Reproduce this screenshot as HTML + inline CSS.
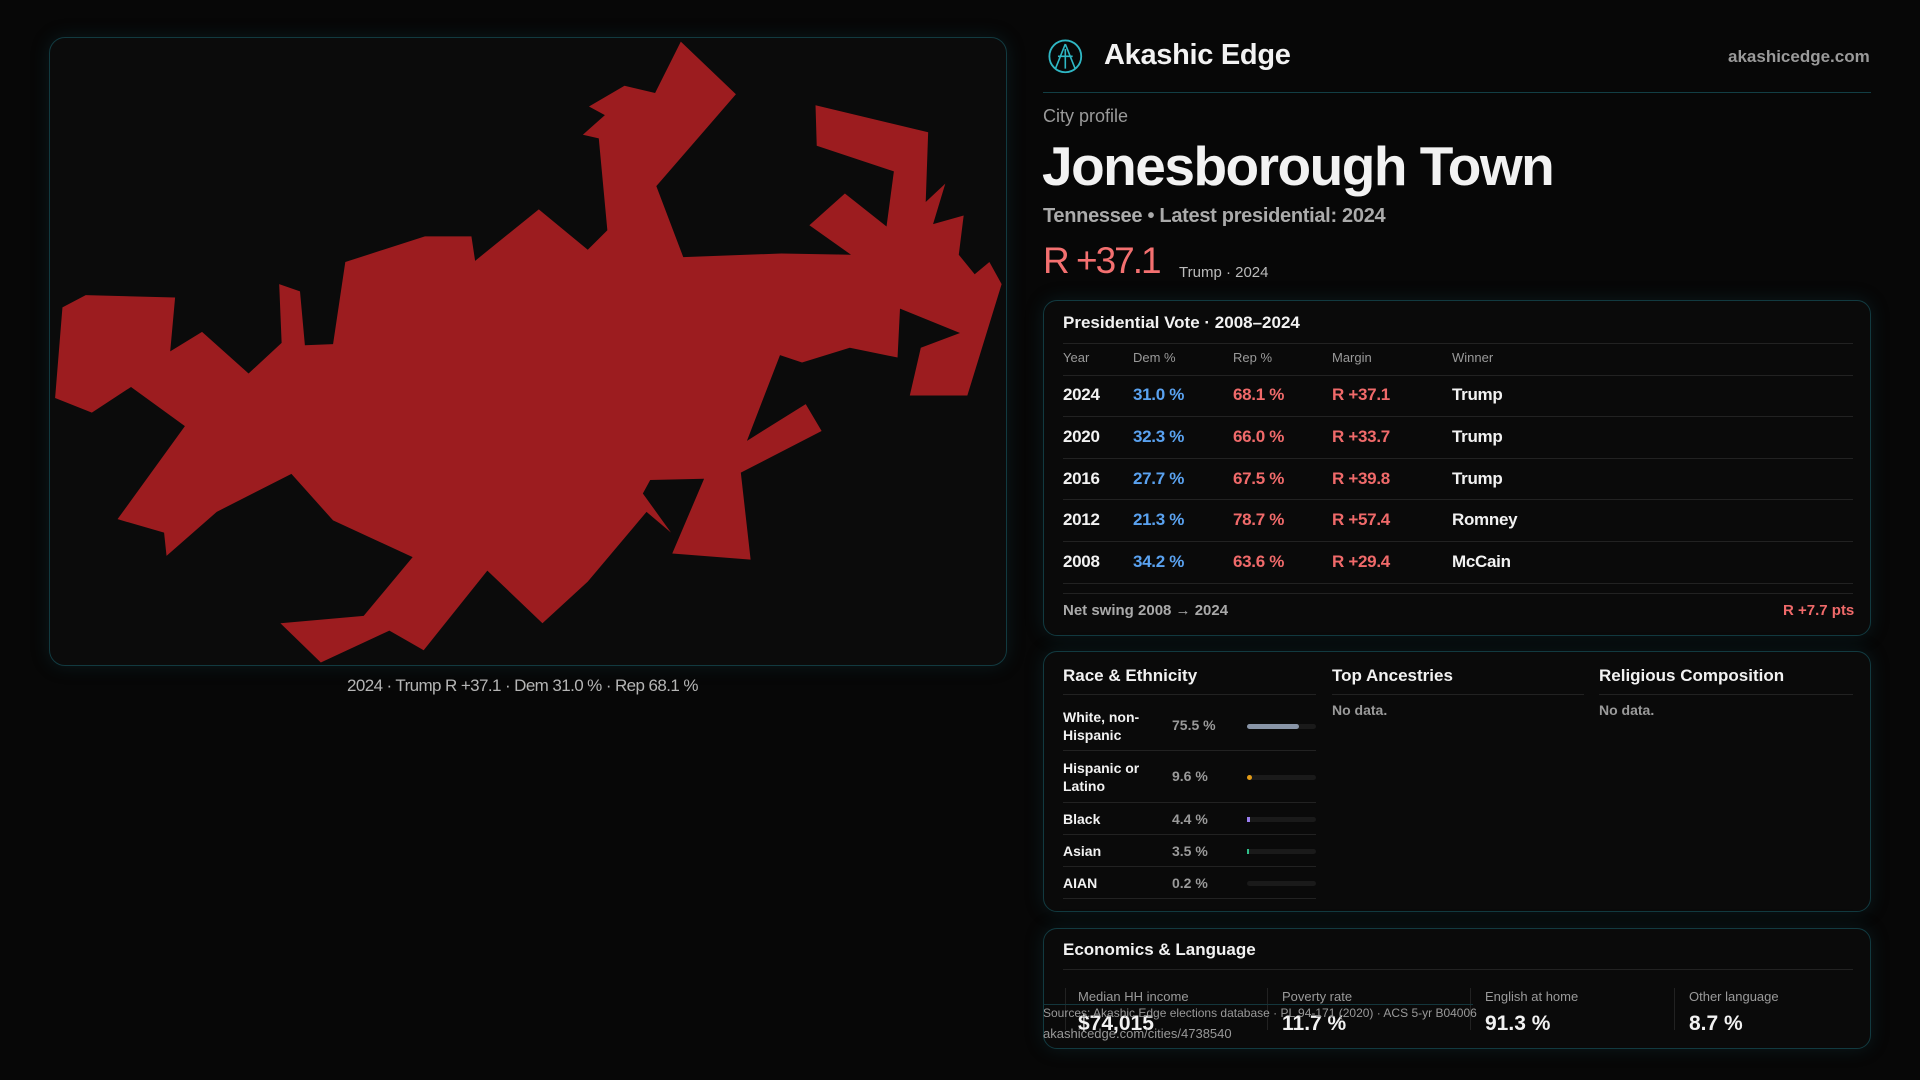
<!DOCTYPE html>
<html><head><meta charset="utf-8"><style>
*{margin:0;padding:0;box-sizing:border-box}
body{width:1920px;height:1080px;background:#070707;font-family:"Liberation Sans",sans-serif;color:#f2f2f2;position:relative;overflow:hidden}
.a{position:absolute;white-space:nowrap}
.card{position:absolute;border:1px solid #123a40;border-radius:14px;background:#0a0a0a;box-shadow:0 0 18px rgba(20,80,90,0.25)}
.hl{position:absolute;height:1px;background:#222}
.blue{color:#5aa2f0}.red{color:#f06a6a}
.mut{color:#9a9a9a}
</style></head><body>
<div class="card" style="left:49px;top:37px;width:958px;height:629px;border-radius:16px;background:#0b0b0b"></div>
<svg class="a" style="left:0;top:0" width="1920" height="1080" viewBox="0 0 1568 882">
<polygon fill="#9c1c1f" points="556,34 601,77 536,152 558,210 638,207 695,208 661,184 690,158 724,185 730,140 667,119 666,86 758,108 756,165 772,150 762,183 787,176 783,208 796,224 808,214 818,232 790,323 743,323 752,284 784,272 735,252 733,292 694,284 655,296 637,290 610,360 658,330 671,352 605,386 613,457 549,452 575,391 531,392 525,403 548,435 528,418 480,475 443,509 398,466 346,531 318,515 262,541 229,509 297,503 337,455 272,425 238,387 177,418 136,454 134,435 96,424 151,348 107,316 75,337 45,325 51,251 70,241 143,243 139,287 165,271 203,305 230,280 228,232 245,238 249,282 272,281 282,214 347,193 385,193 388,213 440,171 480,204 496,188 489,113 476,110 494,94 481,87 510,70 535,76"/>
<circle cx="870" cy="46" r="13" fill="none" stroke="#2fb7c4" stroke-width="1.5"/>
<path d="M870 36 L862 56 M870 36 L878 56 M864 46 L876 46 M870 40 L870 56" stroke="#2fb7c4" stroke-width="1.3" fill="none"/>
</svg>
<div class="a" style="left:347px;top:676px;font-size:17px;color:#b5b5b5;letter-spacing:-0.6px">2024 · Trump R +37.1 · Dem 31.0 % · Rep 68.1 %</div>

<div class="a" style="left:1104px;top:39px;font-size:29px;font-weight:bold;letter-spacing:-0.3px">Akashic Edge</div>
<div class="a mut" style="left:1728px;top:47px;font-size:17px;font-weight:bold">akashicedge.com</div>
<div class="hl" style="left:1043px;top:92px;width:828px;background:#123e44"></div>
<div class="a mut" style="left:1043px;top:106px;font-size:18px">City profile</div>
<div class="a" style="left:1042px;top:134px;font-size:55px;font-weight:bold;letter-spacing:-1.5px">Jonesborough Town</div>
<div class="a" style="left:1043px;top:205px;font-size:20px;color:#aaa;font-weight:bold;letter-spacing:-0.3px">Tennessee • Latest presidential: 2024</div>
<div class="a red" style="left:1043px;top:240px;font-size:37px;color:#f47070;letter-spacing:-2px">R +37.1</div>
<div class="a" style="left:1179px;top:264px;font-size:15px;color:#bbb">Trump · 2024</div>

<div class="card" style="left:1043px;top:300px;width:828px;height:336px"></div>
<div class="a" style="left:1063px;top:313px;font-size:17px;font-weight:bold">Presidential Vote · 2008–2024</div>
<div class="hl" style="left:1063px;top:343px;width:790px"></div>
<div class="a mut" style="left:1063px;top:350px;font-size:13px">Year</div>
<div class="a mut" style="left:1133px;top:350px;font-size:13px">Dem %</div>
<div class="a mut" style="left:1233px;top:350px;font-size:13px">Rep %</div>
<div class="a mut" style="left:1332px;top:350px;font-size:13px">Margin</div>
<div class="a mut" style="left:1452px;top:350px;font-size:13px">Winner</div>
<div class="hl" style="left:1063px;top:375px;width:790px"></div>
<div style="position:absolute;left:1063px;top:375px;width:790px;font-size:17px;font-weight:bold;letter-spacing:-0.3px">
<div style="position:relative;height:42px;border-bottom:1px solid #222"><span class="a" style="left:0;top:10px">2024</span><span class="a blue" style="left:70px;top:10px">31.0 %</span><span class="a red" style="left:170px;top:10px">68.1 %</span><span class="a red" style="left:269px;top:10px">R +37.1</span><span class="a" style="left:389px;top:10px">Trump</span></div>
<div style="position:relative;height:42px;border-bottom:1px solid #222"><span class="a" style="left:0;top:10px">2020</span><span class="a blue" style="left:70px;top:10px">32.3 %</span><span class="a red" style="left:170px;top:10px">66.0 %</span><span class="a red" style="left:269px;top:10px">R +33.7</span><span class="a" style="left:389px;top:10px">Trump</span></div>
<div style="position:relative;height:41px;border-bottom:1px solid #222"><span class="a" style="left:0;top:10px">2016</span><span class="a blue" style="left:70px;top:10px">27.7 %</span><span class="a red" style="left:170px;top:10px">67.5 %</span><span class="a red" style="left:269px;top:10px">R +39.8</span><span class="a" style="left:389px;top:10px">Trump</span></div>
<div style="position:relative;height:42px;border-bottom:1px solid #222"><span class="a" style="left:0;top:10px">2012</span><span class="a blue" style="left:70px;top:10px">21.3 %</span><span class="a red" style="left:170px;top:10px">78.7 %</span><span class="a red" style="left:269px;top:10px">R +57.4</span><span class="a" style="left:389px;top:10px">Romney</span></div>
<div style="position:relative;height:42px;border-bottom:1px solid #222"><span class="a" style="left:0;top:10px">2008</span><span class="a blue" style="left:70px;top:10px">34.2 %</span><span class="a red" style="left:170px;top:10px">63.6 %</span><span class="a red" style="left:269px;top:10px">R +29.4</span><span class="a" style="left:389px;top:10px">McCain</span></div>
</div>
<div class="hl" style="left:1063px;top:593px;width:790px"></div>
<div class="a" style="left:1063px;top:602px;font-size:15px;color:#aaa;font-weight:bold">Net swing 2008 → 2024</div>
<div class="a red" style="left:1783px;top:602px;font-size:15px;font-weight:bold">R +7.7 pts</div>

<div class="card" style="left:1043px;top:651px;width:828px;height:261px"></div>
<div class="a" style="left:1063px;top:666px;font-size:17px;font-weight:bold">Race &amp; Ethnicity</div>
<div class="a" style="left:1332px;top:666px;font-size:17px;font-weight:bold">Top Ancestries</div>
<div class="a" style="left:1599px;top:666px;font-size:17px;font-weight:bold">Religious Composition</div>
<div class="hl" style="left:1063px;top:694px;width:253px"></div>
<div class="hl" style="left:1332px;top:694px;width:252px"></div>
<div class="hl" style="left:1599px;top:694px;width:254px"></div>
<div class="a mut" style="left:1332px;top:702px;font-size:14px;font-weight:bold">No data.</div>
<div class="a mut" style="left:1599px;top:702px;font-size:14px;font-weight:bold">No data.</div>
<div style="position:absolute;left:1063px;top:700px;width:253px;font-size:14px;font-weight:bold">
<div style="position:relative;height:51px;border-bottom:1px solid #222"><span class="a" style="left:0;top:8px;line-height:18px">White, non-<br>Hispanic</span><span class="a mut" style="left:109px;top:17px">75.5 %</span><div class="a" style="left:184px;top:24px;width:69px;height:5px;background:#1a1a1a;border-radius:3px"><div style="width:52px;height:5px;background:#8894a6;border-radius:3px"></div></div></div>
<div style="position:relative;height:52px;border-bottom:1px solid #222"><span class="a" style="left:0;top:8px;line-height:18px">Hispanic or<br>Latino</span><span class="a mut" style="left:109px;top:17px">9.6 %</span><div class="a" style="left:184px;top:24px;width:69px;height:5px;background:#1a1a1a;border-radius:3px"><div style="width:5px;height:5px;background:#e39b16;border-radius:3px"></div></div></div>
<div style="position:relative;height:32px;border-bottom:1px solid #222"><span class="a" style="left:0;top:8px">Black</span><span class="a mut" style="left:109px;top:8px">4.4 %</span><div class="a" style="left:184px;top:14px;width:69px;height:5px;background:#1a1a1a;border-radius:3px"><div style="width:3px;height:5px;background:#9a7ef0"></div></div></div>
<div style="position:relative;height:32px;border-bottom:1px solid #222"><span class="a" style="left:0;top:8px">Asian</span><span class="a mut" style="left:109px;top:8px">3.5 %</span><div class="a" style="left:184px;top:14px;width:69px;height:5px;background:#1a1a1a;border-radius:3px"><div style="width:2px;height:5px;background:#2fc08a"></div></div></div>
<div style="position:relative;height:32px;border-bottom:1px solid #222"><span class="a" style="left:0;top:8px">AIAN</span><span class="a mut" style="left:109px;top:8px">0.2 %</span><div class="a" style="left:184px;top:14px;width:69px;height:5px;background:#1a1a1a;border-radius:3px"></div></div>
</div>

<div class="card" style="left:1043px;top:928px;width:828px;height:121px"></div>
<div class="a" style="left:1063px;top:940px;font-size:17px;font-weight:bold">Economics &amp; Language</div>
<div class="hl" style="left:1063px;top:969px;width:790px"></div>
<div class="a" style="left:1065px;top:988px;width:1px;height:42px;background:#222"></div>
<div class="a" style="left:1267px;top:988px;width:1px;height:42px;background:#222"></div>
<div class="a" style="left:1470px;top:988px;width:1px;height:42px;background:#222"></div>
<div class="a" style="left:1674px;top:988px;width:1px;height:42px;background:#222"></div>
<div class="hl" style="left:1043px;top:1004px;width:430px;background:#14363c"></div>
<div class="a mut" style="left:1078px;top:989px;font-size:13px">Median HH income</div>
<div class="a mut" style="left:1282px;top:989px;font-size:13px">Poverty rate</div>
<div class="a mut" style="left:1485px;top:989px;font-size:13px">English at home</div>
<div class="a mut" style="left:1689px;top:989px;font-size:13px">Other language</div>
<div class="a" style="left:1078px;top:1012px;font-size:21px;font-weight:bold">$74,015</div>
<div class="a" style="left:1282px;top:1012px;font-size:21px;font-weight:bold">11.7 %</div>
<div class="a" style="left:1485px;top:1012px;font-size:21px;font-weight:bold">91.3 %</div>
<div class="a" style="left:1689px;top:1012px;font-size:21px;font-weight:bold">8.7 %</div>
<div class="a" style="left:1043px;top:1006px;font-size:12px;color:#999">Sources: Akashic Edge elections database · PL 94-171 (2020) · ACS 5-yr B04006</div>
<div class="a" style="left:1043px;top:1026px;font-size:13px;color:#999">akashicedge.com/cities/4738540</div>
</body></html>
